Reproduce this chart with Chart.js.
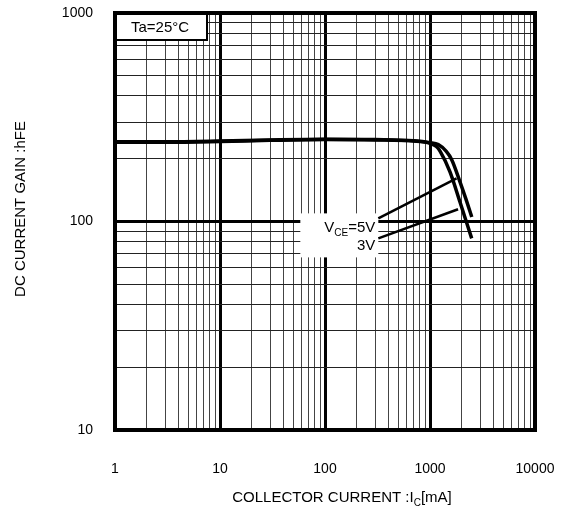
<!DOCTYPE html>
<html>
<head>
<meta charset="utf-8">
<script src="https://cdn.jsdelivr.net/npm/chart.js"></script>
<style>
  body { margin: 0; background: #fff; }
  #wrap { width: 566px; height: 513px; }
</style>
</head>
<body>
<div id="wrap"><canvas id="myChart" width="566" height="513"></canvas></div>
<script>
// hFE vs Ic (Ta=25C)
const ic5V = [1, 3, 10, 30, 100, 300, 700, 1000, 1200, 1430, 1610, 1930, 2200, 2500];
const hfe5V = [241, 241, 243, 246, 248, 247, 244, 239, 234, 217, 198, 155, 128, 105];
const ic3V = [1, 3, 10, 30, 100, 300, 700, 1000, 1150, 1250, 1550, 1930, 2495];
const hfe3V = [240, 240, 242, 245, 247, 246, 243, 237, 229, 217, 173, 124, 83];

// leader lines from the VCE label to each curve
const lead5Vic = [322, 1790];
const lead5Vhfe = [103.5, 161];
const lead3Vic = [322, 1850];
const lead3Vhfe = [83, 114.5];

// axis decades (labelled ticks)
const xDecades = [1, 10, 100, 1000, 10000];
const yDecades = [10, 100, 1000];

Chart.defaults.font.family = "'Liberation Sans', Arial, sans-serif";
Chart.defaults.color = '#000';

function logTicks(decades) {
  let out = [];
  for (let i = 0; i < decades.length; i++) {
    out.push(decades[i]);
    if (i < decades.length - 1) {
      for (let m = 2; m <= 9; m++) out.push(decades[i] * m);
    }
  }
  return out;
}
const xTickValues = logTicks(xDecades);
const yTickValues = logTicks(yDecades);

function pts(xs, ys) {
  return xs.map((v, i) => ({ x: v, y: ys[i] }));
}

// no extra room for overhanging labels, the layout padding handles it
function noPad(scale) {
  scale.paddingTop = 0;
  scale.paddingBottom = 0;
  scale.paddingLeft = 0;
  scale.paddingRight = 0;
}

// draws text pieces, some of them as subscripts
function drawParts(ctx, parts, x, y, align) {
  let widths = parts.map(p => {
    ctx.font = (p.sub ? '10px ' : '15px ') + Chart.defaults.font.family;
    return ctx.measureText(p.t).width;
  });
  let total = widths.reduce((a, b) => a + b, 0);
  let cx = align === 'right' ? x - total : align === 'center' ? x - total / 2 : x;
  ctx.textAlign = 'left';
  ctx.textBaseline = 'alphabetic';
  parts.forEach((p, i) => {
    ctx.font = (p.sub ? '10px ' : '15px ') + Chart.defaults.font.family;
    ctx.fillText(p.t, cx, p.sub ? y + 4 : y);
    cx += widths[i];
  });
}

const extras = {
  id: 'extras',
  beforeDatasetsDraw(chart) {
    const ctx = chart.ctx;
    const a = chart.chartArea;
    const xs = chart.scales.x, ys = chart.scales.y;
    ctx.save();
    ctx.strokeStyle = '#000';
    ctx.fillStyle = '#000';

    // heavy frame
    ctx.lineWidth = 4;
    ctx.strokeRect(a.left, a.top, a.right - a.left, a.bottom - a.top);

    // Ta box in the corner
    ctx.fillStyle = '#fff';
    ctx.fillRect(a.left + 2, a.top + 2, 90, 25);
    ctx.lineWidth = 2;
    ctx.beginPath();
    ctx.moveTo(a.left + 92, a.top);
    ctx.lineTo(a.left + 92, a.top + 27);
    ctx.lineTo(a.left, a.top + 27);
    ctx.stroke();
    ctx.fillStyle = '#000';
    ctx.font = '15px ' + Chart.defaults.font.family;
    ctx.textAlign = 'center';
    ctx.textBaseline = 'middle';
    ctx.fillText('Ta=25°C', a.left + 45, a.top + 15);

    // VCE label, placed at the start of the leader lines
    const lx = xs.getPixelForValue(lead5Vic[0]);
    const ly = ys.getPixelForValue(lead5Vhfe[0]);
    ctx.fillStyle = '#fff';
    ctx.fillRect(lx - 78, ly - 5, 78, 44);
    ctx.fillStyle = '#000';
    drawParts(ctx, [{ t: 'V' }, { t: 'CE', sub: true }, { t: '=5V' }], lx - 3, ly + 13.5, 'right');
    drawParts(ctx, [{ t: '3V' }], lx - 3, ly + 32, 'right');
    ctx.restore();
  },
  afterDraw(chart) {
    const ctx = chart.ctx;
    ctx.save();
    ctx.fillStyle = '#000';
    // x title with subscript
    drawParts(ctx, [{ t: 'COLLECTOR CURRENT :I' }, { t: 'C', sub: true }, { t: '[mA]' }], 342, 502, 'center');
    // y title
    ctx.translate(21, 209);
    ctx.rotate(-Math.PI / 2);
    ctx.font = '15px ' + Chart.defaults.font.family;
    ctx.textAlign = 'center';
    ctx.textBaseline = 'middle';
    ctx.fillText('DC CURRENT GAIN :hFE', 0, 0);
    ctx.restore();
  }
};

const curve = { borderColor: '#000', borderWidth: 3.5, pointRadius: 0, fill: false, cubicInterpolationMode: 'monotone' };
const lead = { borderColor: '#000', borderWidth: 2.5, pointRadius: 0, fill: false, tension: 0 };

const ctx = document.getElementById('myChart').getContext('2d');
const myChart = new Chart(ctx, {
  type: 'line',
  data: {
    datasets: [
      Object.assign({ label: 'VCE=5V', data: pts(ic5V, hfe5V) }, curve),
      Object.assign({ label: 'VCE=3V', data: pts(ic3V, hfe3V) }, curve),
      Object.assign({ label: 'lead 5V', data: pts(lead5Vic, lead5Vhfe) }, lead),
      Object.assign({ label: 'lead 3V', data: pts(lead3Vic, lead3Vhfe) }, lead)
    ]
  },
  options: {
    responsive: false,
    animation: false,
    layout: { padding: { top: 13, right: 31, left: 0, bottom: 0 } },
    plugins: { legend: { display: false }, tooltip: { enabled: false } },
    scales: {
      x: {
        type: 'logarithmic',
        min: 1,
        max: 10000,
        afterBuildTicks: (scale) => { scale.ticks = xTickValues.map(v => ({ value: v })); },
        afterFit: (scale) => { scale.height = 83; noPad(scale); },
        border: { display: false },
        grid: {
          drawTicks: false,
          color: (c) => xDecades.includes(c.tick.value) ? '#000' : '#444',
          lineWidth: (c) => xDecades.includes(c.tick.value) ? 3 : 1
        },
        ticks: {
          autoSkip: false,
          maxRotation: 0,
          minRotation: 0,
          padding: 31,
          font: { size: 14 },
          callback: (v) => xDecades.includes(v) ? String(v) : ''
        }
      },
      y: {
        type: 'logarithmic',
        min: 10,
        max: 1000,
        afterBuildTicks: (scale) => { scale.ticks = yTickValues.map(v => ({ value: v })); },
        afterFit: (scale) => { scale.width = 115; noPad(scale); },
        border: { display: false },
        grid: {
          drawTicks: false,
          color: (c) => yDecades.includes(c.tick.value) ? '#000' : '#222',
          lineWidth: (c) => yDecades.includes(c.tick.value) ? 3 : 1
        },
        ticks: {
          autoSkip: false,
          padding: 22,
          font: { size: 14 },
          callback: (v) => yDecades.includes(v) ? String(v) : ''
        }
      }
    }
  },
  plugins: [extras]
});
</script>
</body>
</html>
